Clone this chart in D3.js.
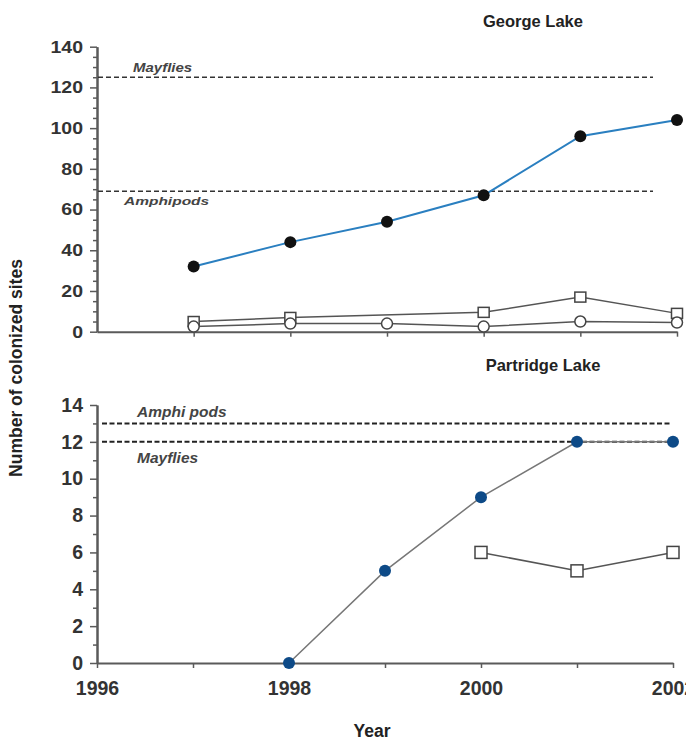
<!DOCTYPE html>
<html>
<head>
<meta charset="utf-8">
<script src="https://cdn.jsdelivr.net/npm/d3@7"></script>
<style>
  body { margin: 0; background: #fff; }
  svg { display: block; font-family: "Liberation Sans", Arial, sans-serif; }
</style>
</head>
<body>
<svg width="686" height="742"></svg>
<script>
// George Lake (top panel)
const georgeYears = [1997, 1998, 1999, 2000, 2001, 2002];
const georgeFilled = [32, 44, 54, 67, 96, 104];
const georgeSquares = [5, 7, null, 9.5, 17, 9];
const georgeCircles = [2.5, 4, 4, 2.5, 5, 4.5];
const georgeRefs = [{name: "Mayflies", value: 125}, {name: "Amphipods", value: 69}];

// Partridge Lake (bottom panel)
const partridgeYears = [1998, 1999, 2000, 2001, 2002];
const partridgeFilled = [0, 5, 9, 12, 12];
const squareYears = [2000, 2001, 2002];
const partridgeSquares = [6, 5, 6];
const partridgeRefs = [{name: "Amphipods", value: 13}, {name: "Mayflies", value: 12}];

const xTicks = [1996, 1997, 1998, 1999, 2000, 2001, 2002];

const svg = d3.select("svg");
const axisColor = "#5a5a5a";
const textColor = "#333";

function styleAxis(g) {
    g.select(".domain").attr("stroke", axisColor).attr("stroke-width", 2);
    g.selectAll(".tick line").attr("stroke", axisColor).attr("stroke-width", 1.5);
    g.selectAll(".tick text")
        .attr("fill", textColor)
        .attr("font-weight", "bold")
        .attr("font-family", "'Liberation Sans', Arial, sans-serif");
}

// ======= TOP PANEL =======
const x1 = d3.scaleLinear().domain([1996, 2002]).range([97, 677]);
const y1 = d3.scaleLinear().domain([0, 140]).range([331.7, 46.7]);

const topPanel = svg.append("g");

topPanel.append("g")
    .attr("transform", `translate(0, ${y1(0)})`)
    .call(d3.axisBottom(x1).tickValues(xTicks.slice(1)).tickSize(5).tickSizeOuter(0).tickFormat(""))
    .call(styleAxis);

topPanel.append("g")
    .attr("transform", `translate(${x1(1996)}, 0)`)
    .call(d3.axisLeft(y1).tickValues(d3.range(5, 140, 5).filter(v => v % 20 !== 0)).tickSize(4).tickSizeOuter(0).tickFormat(""))
    .call(styleAxis);

topPanel.append("g")
    .attr("transform", `translate(${x1(1996)}, 0)`)
    .call(d3.axisLeft(y1).tickValues(d3.range(0, 141, 20)).tickSize(7).tickPadding(7).tickSizeOuter(0))
    .call(styleAxis)
    .call(g => g.selectAll(".tick text").attr("font-size", 19.5).attr("transform", "scale(1,0.85)"));

// reference lines
georgeRefs.forEach(r => {
    topPanel.append("line")
        .attr("x1", x1(1996) + 1).attr("x2", 653)
        .attr("y1", y1(r.value)).attr("y2", y1(r.value))
        .attr("stroke", "#333").attr("stroke-width", 1.5)
        .attr("stroke-dasharray", "5,3");
});
topPanel.append("text")
    .attr("transform", `translate(133, ${y1(125) - 5}) scale(1,0.8)`)
    .attr("font-size", 15).attr("font-weight", "bold").attr("font-style", "italic")
    .attr("fill", "#444").text("Mayflies");
topPanel.append("text")
    .attr("transform", `translate(124, ${y1(69) + 14}) scale(1,0.75)`)
    .attr("font-size", 15.5).attr("font-weight", "bold").attr("font-style", "italic")
    .attr("fill", "#444").text("Amphipods");

const gLine = d3.line()
    .x(d => x1(d[0])).y(d => y1(d[1]));

const squaresPts = georgeYears.map((yr, i) => [yr, georgeSquares[i]]).filter(d => d[1] !== null);
const circlesPts = georgeYears.map((yr, i) => [yr, georgeCircles[i]]);
const filledPts = georgeYears.map((yr, i) => [yr, georgeFilled[i]]);

topPanel.append("path").attr("d", gLine(circlesPts))
    .attr("fill", "none").attr("stroke", "#555").attr("stroke-width", 1.5);
topPanel.append("path").attr("d", gLine(squaresPts))
    .attr("fill", "none").attr("stroke", "#555").attr("stroke-width", 1.5);
topPanel.append("path").attr("d", gLine(filledPts))
    .attr("fill", "none").attr("stroke", "#2a7fc0").attr("stroke-width", 2);

topPanel.selectAll("rect.sq")
    .data(squaresPts)
    .enter()
    .append("rect")
    .attr("x", d => x1(d[0]) - 5.5).attr("y", d => y1(d[1]) - 5)
    .attr("width", 11).attr("height", 10)
    .attr("fill", "#fff").attr("stroke", "#444").attr("stroke-width", 1.5);

topPanel.selectAll("circle.oc")
    .data(circlesPts)
    .enter()
    .append("circle")
    .attr("cx", d => x1(d[0])).attr("cy", d => y1(d[1]))
    .attr("r", 5.5)
    .attr("fill", "#fff").attr("stroke", "#444").attr("stroke-width", 1.5);

topPanel.selectAll("circle.fc")
    .data(filledPts)
    .enter()
    .append("circle")
    .attr("cx", d => x1(d[0])).attr("cy", d => y1(d[1]))
    .attr("r", 6)
    .attr("fill", "#111");

svg.append("text")
    .attr("x", 533).attr("y", 27)
    .attr("text-anchor", "middle")
    .attr("font-size", 16.5).attr("font-weight", "bold")
    .attr("fill", "#222").text("George Lake");

// ======= BOTTOM PANEL =======
const x2 = d3.scaleLinear().domain([1996, 2002]).range([97, 673]);
const y2 = d3.scaleLinear().domain([0, 14]).range([663, 405]);

const bottomPanel = svg.append("g");

bottomPanel.append("g")
    .attr("transform", `translate(0, ${y2(0)})`)
    .call(d3.axisBottom(x2).tickValues(xTicks).tickSize(5).tickPadding(13).tickSizeOuter(0)
        .tickFormat(d => d % 2 === 0 ? d : ""))
    .call(styleAxis)
    .call(g => g.selectAll(".tick text").attr("font-size", 19.5));

bottomPanel.append("g")
    .attr("transform", `translate(${x2(1996)}, 0)`)
    .call(d3.axisLeft(y2).tickValues(d3.range(1, 14, 2)).tickSize(4).tickSizeOuter(0).tickFormat(""))
    .call(styleAxis);

bottomPanel.append("g")
    .attr("transform", `translate(${x2(1996)}, 0)`)
    .call(d3.axisLeft(y2).tickValues(d3.range(0, 15, 2)).tickSize(7).tickPadding(7).tickSizeOuter(0))
    .call(styleAxis)
    .call(g => g.selectAll(".tick text").attr("font-size", 19.5));

partridgeRefs.forEach(r => {
    bottomPanel.append("line")
        .attr("x1", x2(1996) + 5).attr("x2", 671)
        .attr("y1", y2(r.value)).attr("y2", y2(r.value))
        .attr("stroke", "#222").attr("stroke-width", 2)
        .attr("stroke-dasharray", "5,2.5");
});
bottomPanel.append("text")
    .attr("x", 137).attr("y", y2(13) - 6)
    .attr("font-size", 15.5).attr("font-weight", "bold").attr("font-style", "italic")
    .attr("fill", "#444").text("Amphi pods");
bottomPanel.append("text")
    .attr("x", 137).attr("y", y2(12) + 21)
    .attr("font-size", 15.5).attr("font-weight", "bold").attr("font-style", "italic")
    .attr("fill", "#444").text("Mayflies");

const pLine = d3.line().x(d => x2(d[0])).y(d => y2(d[1]));
const pFilled = partridgeYears.map((yr, i) => [yr, partridgeFilled[i]]);
const pSquares = squareYears.map((yr, i) => [yr, partridgeSquares[i]]);

bottomPanel.append("path").attr("d", pLine(pFilled))
    .attr("fill", "none").attr("stroke", "#777").attr("stroke-width", 1.5);
bottomPanel.append("path").attr("d", pLine(pSquares))
    .attr("fill", "none").attr("stroke", "#555").attr("stroke-width", 1.5);

bottomPanel.selectAll("rect.sq")
    .data(pSquares)
    .enter()
    .append("rect")
    .attr("x", d => x2(d[0]) - 6).attr("y", d => y2(d[1]) - 6)
    .attr("width", 12).attr("height", 12)
    .attr("fill", "#fff").attr("stroke", "#444").attr("stroke-width", 1.5);

bottomPanel.selectAll("circle.fc")
    .data(pFilled)
    .enter()
    .append("circle")
    .attr("cx", d => x2(d[0])).attr("cy", d => y2(d[1]))
    .attr("r", 6)
    .attr("fill", "#0d4a87");

svg.append("text")
    .attr("x", 543).attr("y", 371)
    .attr("text-anchor", "middle")
    .attr("font-size", 16.5).attr("font-weight", "bold")
    .attr("fill", "#222").text("Partridge Lake");

// shared axis titles
svg.append("text")
    .attr("transform", "translate(22, 368) rotate(-90)")
    .attr("text-anchor", "middle")
    .attr("font-size", 17.5).attr("font-weight", "bold")
    .attr("fill", "#222").text("Number of colonized sites");

svg.append("text")
    .attr("x", 372).attr("y", 737)
    .attr("text-anchor", "middle")
    .attr("font-size", 17.5).attr("font-weight", "bold")
    .attr("fill", "#222").text("Year");
</script>
</body>
</html>
